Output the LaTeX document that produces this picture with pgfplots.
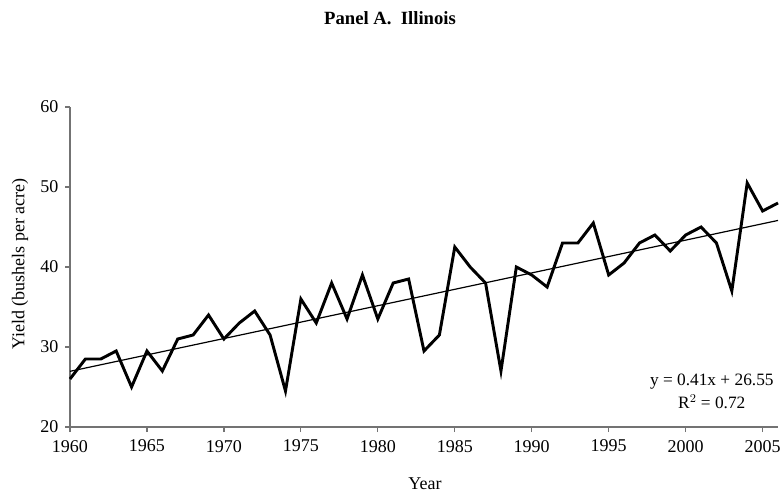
\documentclass[border=0pt]{standalone}
\usepackage{fontspec}
\setmainfont{Liberation Serif}
\usepackage{pgfplots}
\pgfplotsset{compat=1.18}
\begin{document}
\begin{tikzpicture}[x=1pt,y=1pt]
\useasboundingbox (-52.5,-49.5) rectangle (535.5,320.25);
\begin{axis}[
  at={(0,0)}, anchor=south west,
  scale only axis, width=531pt, height=240pt,
  xmin=1960, xmax=2006, ymin=20, ymax=60,
  xtick={1960,1965,...,2005}, ytick={20,30,...,60},
  axis x line*=bottom, axis y line*=left,
  axis line style={draw=gray!90!black, line width=0.9pt},
  tick style={draw=gray!90!black, line width=0.9pt},
  tick align=outside, major tick length=3.75pt,
  /pgf/number format/assume math mode=true,
  /pgf/number format/1000 sep={},
  tick label style={font=\fontsize{13.5}{15}\selectfont, text=black},
  xticklabel style={yshift=-2.5pt},
  yticklabel style={xshift=-1.5pt},
  clip=false,
]
\addplot[black, line width=2.2pt, line join=miter, mark=none] coordinates {
(1960,26) (1961,28.5) (1962,28.5) (1963,29.5) (1964,25) (1965,29.5) (1966,27)
(1967,31) (1968,31.5) (1969,34) (1970,31) (1971,33) (1972,34.5) (1973,31.5)
(1974,24.5) (1975,36) (1976,33) (1977,38) (1978,33.5) (1979,39) (1980,33.5)
(1981,38) (1982,38.5) (1983,29.5) (1984,31.5) (1985,42.5) (1986,40) (1987,38)
(1988,27) (1989,40) (1990,39) (1991,37.5) (1992,43) (1993,43) (1994,45.5)
(1995,39) (1996,40.5) (1997,43) (1998,44) (1999,42) (2000,44) (2001,45)
(2002,43) (2003,37) (2004,50.5) (2005,47) (2006,48)
};
\addplot[black, line width=0.9pt, mark=none] coordinates {(1960,26.96) (2006,45.82)};
\node[align=center, font=\fontsize{13}{17}\selectfont] at (axis cs:2001.7,24.44)
  {y = 0.41x + 26.55\\R$^{2}$ = 0.72};
\end{axis}
\node[font=\bfseries\fontsize{14}{16}\selectfont] at (240,306.75) {Panel A.\ \ Illinois};
\node[rotate=90, font=\fontsize{13.5}{15}\selectfont] at (-37.5,122.25) {Yield (bushels per acre)};
\node[font=\fontsize{13.5}{15}\selectfont] at (266.25,-42.75) {Year};
\end{tikzpicture}
\end{document}
